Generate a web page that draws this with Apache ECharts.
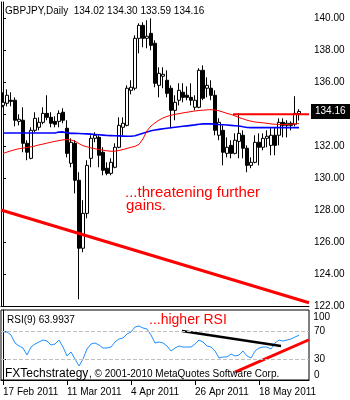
<!DOCTYPE html>
<html><head><meta charset="utf-8">
<script src="https://cdn.jsdelivr.net/npm/echarts@6/dist/echarts.min.js"></script>
<style>html,body{margin:0;padding:0;background:#fff}#c{width:350px;height:400px}</style>
</head><body><div id="c"></div>
<script>
// ---------- DATA ----------
const slotCount = 77; // 75 daily bars + 2 empty slots on the right
const dateLabelIdx = [0, 16, 32, 48, 64];
const openP = [134.54,134.67,134.86,134.86,133.54,133.61,132.17,131.23,132.98,133.17,
133.48,134.04,133.79,133.54,133.54,134.11,133.11,130.92,132.17,129.86,
125.61,127.79,131.23,132.48,132.54,131.61,130.61,130.29,130.67,131.92,
133.17,133.29,135.48,135.61,138.73,139.54,138.73,139.04,138.42,135.79,
136.36,136.11,135.61,134.23,134.86,135.36,135.17,135.04,134.42,134.42,
136.73,135.61,135.61,135.17,132.67,132.98,131.54,132.04,131.54,132.29,
132.67,131.86,130.79,130.98,132.23,131.92,132.48,132.04,132.67,132.67,
133.48,133.29,133.42,133.36,134.02];
const closeP = [134.73,135.17,134.79,133.61,133.67,132.17,131.61,132.98,133.73,133.48,
134.04,133.79,133.42,133.36,134.04,133.61,131.54,132.23,129.86,125.61,
127.79,130.79,132.48,132.67,131.42,130.48,130.29,130.98,131.92,133.29,
133.42,135.61,135.67,138.73,139.54,138.73,138.86,138.29,135.92,136.54,
136.48,135.29,134.23,134.73,135.48,135.04,135.04,134.86,134.86,136.73,
134.98,135.79,135.17,132.98,133.48,131.61,131.92,131.54,132.36,132.79,
131.86,130.79,130.98,132.23,131.92,132.48,132.61,132.67,132.04,133.48,
133.29,133.42,133.29,134.04,134.16];
const highP = [135.36,135.54,135.36,135.04,133.98,134.42,132.36,133.17,134.11,133.79,
134.42,135.17,134.11,133.86,134.23,134.36,133.61,132.48,132.36,130.36,
128.61,131.11,132.67,132.86,132.67,131.92,130.98,131.23,132.17,133.79,
133.79,135.79,136.11,138.92,139.67,139.73,139.86,139.98,138.61,136.92,
136.92,136.73,135.79,135.17,135.92,135.92,135.73,135.92,135.17,136.86,
137.04,136.29,136.11,135.48,133.73,133.29,132.54,132.36,132.79,134.04,
132.98,132.04,131.29,132.67,132.79,132.79,132.98,133.11,133.17,133.73,
133.73,133.61,133.54,135.11,134.30];
const lowP = [134.42,134.48,134.48,133.23,133.29,131.61,131.11,131.17,132.86,132.98,
133.36,133.61,133.17,133.17,133.17,133.42,131.29,130.67,129.04,122.42,
125.36,127.48,130.67,132.23,130.67,130.17,130.17,130.17,130.61,131.86,
132.67,133.23,135.23,135.48,137.79,138.17,138.11,137.98,135.67,135.04,
135.61,135.04,133.11,133.61,134.54,134.73,134.86,134.54,134.23,134.36,
134.86,135.04,134.86,132.67,132.36,130.79,131.29,131.23,131.48,131.23,
131.23,130.36,130.61,130.92,130.79,131.73,131.92,131.42,131.42,132.04,
132.54,132.54,132.98,133.23,133.59];
const maRed = [131.53,131.62,131.70,131.77,131.83,131.87,131.91,131.95,132.00,132.07,
132.12,132.18,132.24,132.29,132.34,132.38,132.40,132.38,132.30,132.15,
132.02,131.95,131.88,131.83,131.78,131.74,131.70,131.67,131.68,131.72,
131.78,131.85,131.92,131.98,132.10,132.45,132.95,133.25,133.45,133.62,
133.75,133.85,133.92,133.98,134.02,134.07,134.11,134.15,134.19,134.22,
134.24,134.26,134.27,134.25,134.20,134.12,134.04,133.97,133.88,133.78,
133.70,133.61,133.55,133.50,133.47,133.45,133.42,133.38,133.36,133.35,
133.34,133.35,133.36,133.38,133.40];
const maBlue = [132.81,132.81,132.81,132.81,132.81,132.81,132.81,132.81,132.81,132.81,
132.81,132.81,132.81,132.81,132.87,132.88,132.82,132.79,132.79,132.78,
132.77,132.76,132.74,132.72,132.70,132.68,132.66,132.65,132.64,132.63,
132.62,132.61,132.61,132.64,132.72,132.80,132.88,132.95,133.00,133.04,
133.08,133.11,133.14,133.17,133.20,133.23,133.26,133.29,133.32,133.36,
133.38,133.39,133.38,133.36,133.34,133.33,133.31,133.29,133.27,133.25,
133.20,133.16,133.15,133.15,133.15,133.15,133.15,133.15,133.15,133.15,
133.15,133.15,133.15,133.15,133.15];
const rsi9 = [68.6,68.6,64.3,52.9,48.6,45.7,35.7,47.1,51.4,54.3,
57.1,55.7,50.0,51.4,57.1,47.1,34.3,40.0,30.0,20.0,
30.0,44.3,51.4,52.9,50.0,45.7,45.7,47.1,54.3,58.6,
60.0,65.7,68.6,75.7,77.1,74.3,72.9,64.3,52.9,54.3,
52.9,48.6,41.4,45.7,48.6,47.1,47.1,47.1,51.4,57.1,
54.3,48.6,47.1,41.4,31.4,32.9,32.9,37.1,34.3,35.7,
41.4,34.3,31.4,41.4,45.7,47.1,47.1,44.3,52.9,57.1,
55.7,57.1,58.6,61.4,63.99];
const priceTrendLine = [[-0.5, 128.00], [76.5, 122.20]];
const resistanceLine = [[57.5, 133.98], [76.5, 133.98]];
const rsiFallingLine = [[44.75, 70.0], [69.5, 48.6]];
const rsiRisingLine = [[58.0, 11.4], [76.5, 57.5]];
const rsiLevels = [70, 30];
const rsiTickLabels = [0, 30, 70];
const rsiTopLabel = '100';
const lastPrice = 134.16;

// ---------- categories: weekdays from 17 Feb 2011 ----------
const months = ['Jan','Feb','Mar','Apr','May','Jun','Jul','Aug','Sep','Oct','Nov','Dec'];
const categories = [];
(function(){
  let t = Date.UTC(2011, 1, 17);
  while (categories.length < slotCount) {
    const d = new Date(t);
    const wd = d.getUTCDay();
    if (wd !== 0 && wd !== 6) categories.push(d.getUTCDate() + ' ' + months[d.getUTCMonth()] + ' ' + d.getUTCFullYear());
    t += 86400000;
  }
})();

const candles = openP.map((o, i) => [o, closeP[i], lowP[i], highP[i]]);
const FF = '"Liberation Sans", Arial, sans-serif';

const chart = echarts.init(document.getElementById('c'), null, {renderer: 'canvas'});
chart.setOption({
  animation: false,
  backgroundColor: '#fff',
  grid: [
    {left: 1, top: 2, width: 308, height: 304, show: false},
    {left: 1, top: 310, width: 308, height: 70, show: true, borderColor: '#000', borderWidth: 1}
  ],
  xAxis: [
    {type: 'category', gridIndex: 0, data: categories, boundaryGap: true,
     axisLine: {show: true, lineStyle: {color: '#000', width: 1}}, axisTick: {show: false}, axisLabel: {show: false}, splitLine: {show: false}},
    {type: 'category', gridIndex: 1, data: categories, boundaryGap: true,
     axisLine: {show: true, lineStyle: {color: '#000', width: 1}},
     axisTick: {show: true, alignWithLabel: true, interval: (i) => dateLabelIdx.includes(i), length: 5, lineStyle: {color: '#000'}},
     axisLabel: {show: true, interval: (i) => dateLabelIdx.includes(i), align: 'left', color: '#000', fontSize: 10, fontFamily: FF, margin: 7},
     splitLine: {show: false}},
    {type: 'value', gridIndex: 0, min: -0.5, max: 76.5, show: false},
    {type: 'value', gridIndex: 1, min: -0.5, max: 76.5, show: false}
  ],
  yAxis: [
    {type: 'value', gridIndex: 0, position: 'right', min: 122, max: 141, interval: 2, scale: true,
     axisLine: {show: true, lineStyle: {color: '#000'}},
     axisTick: {show: true, length: 3, lineStyle: {color: '#000'}},
     axisLabel: {color: '#000', fontSize: 10, fontFamily: FF, margin: 5, showMaxLabel: false, formatter: v => v.toFixed(2)},
     splitLine: {show: false}},
    {type: 'value', gridIndex: 0, position: 'left', min: 122, max: 141, scale: true,
     axisLine: {show: true, lineStyle: {color: '#000'}}, axisTick: {show: false}, axisLabel: {show: false}, splitLine: {show: false}},
    {type: 'value', gridIndex: 1, position: 'right', min: 0, max: 100,
     axisLine: {show: true, lineStyle: {color: '#000'}},
     axisTick: {show: true, length: 3, customValues: rsiTickLabels, lineStyle: {color: '#000'}},
     axisLabel: {color: '#000', fontSize: 10, fontFamily: FF, margin: 5, customValues: rsiTickLabels,
       showMinLabel: true, hideOverlap: false, verticalAlignMinLabel: 'bottom'},
     splitLine: {show: false}}
  ],
  series: [
    {type: 'candlestick', xAxisIndex: 0, yAxisIndex: 0, data: candles, barWidth: 3,
     itemStyle: {color: '#fff', color0: '#000', borderColor: '#000', borderColor0: '#000', borderWidth: 1},
     markLine: {silent: true, symbol: ['none', 'none'], z: 10,
       lineStyle: {color: 'rgba(0,0,0,0)', width: 0.1, type: 'solid'},
       label: {show: true, position: 'end', distance: 2, formatter: lastPrice.toFixed(2), color: '#fff', backgroundColor: '#000',
               fontSize: 10, fontFamily: FF, padding: [3, 8, 2, 4]},
       data: [{yAxis: lastPrice}]}},
    {type: 'line', xAxisIndex: 0, yAxisIndex: 0, data: maBlue, symbol: 'none', lineStyle: {color: '#0000ff', width: 1.6}},
    {type: 'line', xAxisIndex: 0, yAxisIndex: 0, data: maRed, symbol: 'none', lineStyle: {color: '#ff0000', width: 1}},
    {type: 'line', xAxisIndex: 2, yAxisIndex: 0, data: priceTrendLine, symbol: 'none', lineStyle: {color: '#ff0000', width: 3}},
    {type: 'line', xAxisIndex: 2, yAxisIndex: 0, data: resistanceLine, symbol: 'none', lineStyle: {color: '#ff0000', width: 2}},
    {type: 'line', xAxisIndex: 1, yAxisIndex: 2, data: rsi9, symbol: 'none', lineStyle: {color: '#1e90ff', width: 1},
     markLine: {silent: true, symbol: ['none', 'none'], label: {show: false},
       lineStyle: {color: '#c0c0c0', type: [4, 2], width: 1},
       data: rsiLevels.map(v => ({yAxis: v}))}},
    {type: 'line', xAxisIndex: 3, yAxisIndex: 2, data: rsiFallingLine, symbol: 'none', lineStyle: {color: '#000', width: 2.5}},
    {type: 'line', xAxisIndex: 3, yAxisIndex: 2, data: rsiRisingLine, symbol: 'none', lineStyle: {color: '#ff0000', width: 3}}
  ],
  graphic: {elements: [
    {type: 'text', x: 5, y: 11.5, z: 100, style: {text: 'GBPJPY,Daily  134.02 134.30 133.59 134.16', fontSize: 10, fontFamily: FF, fill: '#000', verticalAlign: 'middle'}},
    {type: 'text', x: 125, y: 193, z: 100, style: {text: '...threatening further', fontSize: 15, fontFamily: FF, fill: '#ff0000', verticalAlign: 'middle'}},
    {type: 'text', x: 126, y: 206, z: 100, style: {text: 'gains.', fontSize: 15, fontFamily: FF, fill: '#ff0000', verticalAlign: 'middle'}},
    {type: 'text', x: 7, y: 320.5, z: 100, style: {text: 'RSI(9) 63.9937', fontSize: 10, fontFamily: FF, fill: '#000', verticalAlign: 'middle'}},
    {type: 'text', x: 149, y: 320, z: 100, style: {text: '...higher RSI', fontSize: 14, fontFamily: FF, fill: '#ff0000', verticalAlign: 'middle'}},
    {type: 'text', x: 5, y: 374, z: 100, style: {text: 'FXTechstrategy', fontSize: 12, fontFamily: FF, fill: '#000', verticalAlign: 'middle'}},
    {type: 'text', x: 89, y: 374.5, z: 100, style: {text: ', \u00a9 2001-2010 MetaQuotes Software Corp.', fontSize: 10, fontFamily: FF, fill: '#000', verticalAlign: 'middle'}},
    {type: 'text', right: 20, top: 312, z: 100, style: {text: rsiTopLabel, fontSize: 10, fontFamily: FF, fill: '#000'}}
  ]}
});
</script>
</body></html>
